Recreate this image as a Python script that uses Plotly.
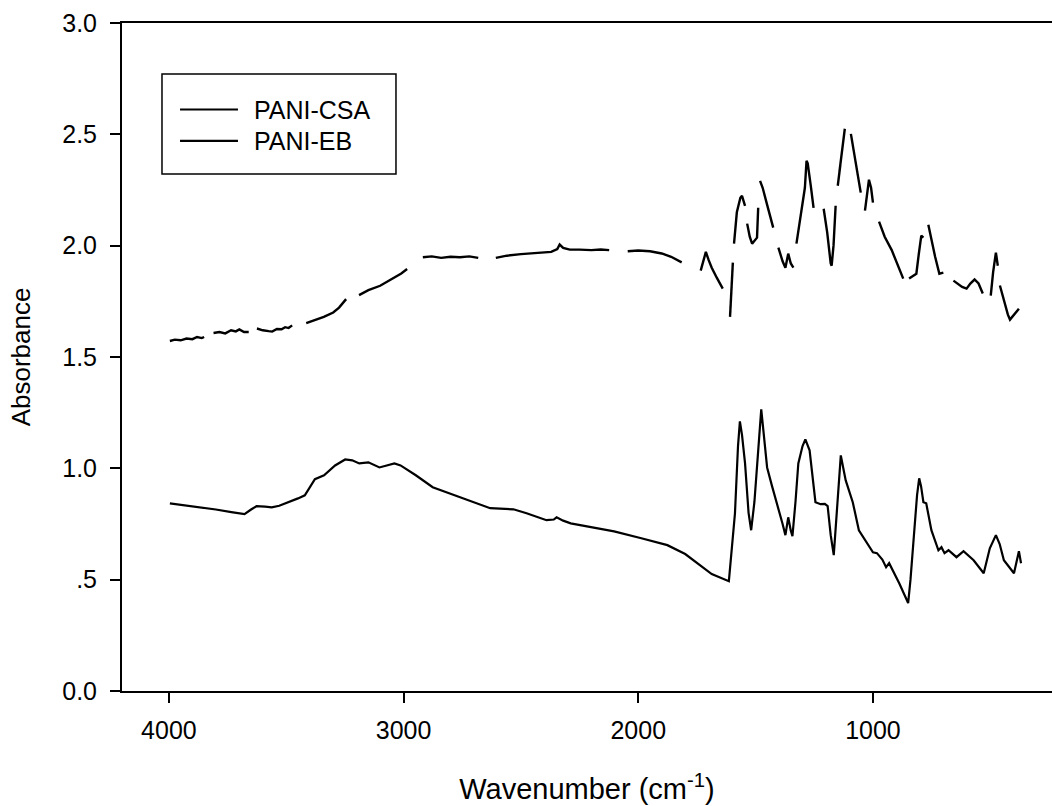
import plotly.graph_objects as go

# PANI-CSA (upper trace, drawn with breaks as in the scanned figure; None = gap)
csa_wn = [3996, 3975, 3950, 3925, 3900, 3880, 3860, 3850, None,
          3810, 3785, 3760, 3735, 3715, 3700, 3680, 3660, None,
          3625, 3600, 3575, 3560, 3540, 3520, 3505, 3490, 3475, None,
          3415, 3380, 3340, 3300, 3275, 3245, None,
          3190, 3150, 3100, 3050, 3010, 2985, None,
          2918, 2880, 2840, 2800, 2760, 2720, 2682, None,
          2607, 2560, 2500, 2450, 2400, 2371, 2345, 2335, 2320, 2292, 2250, 2200, 2160, 2124, None,
          2045, 2000, 1950, 1900, 1860, 1815, None,
          1734, 1720, 1712, 1700, 1687, 1665, 1640, None,
          1609, 1603, 1597, None,
          1592, 1580, 1565, 1558, 1545, None,
          1536, 1525, 1515, 1500, 1494, 1489, None,
          1481, 1470, 1450, 1425, None,
          1403, 1385, 1373, 1365, 1361, 1350, 1339, None,
          1326, 1305, 1290, 1283, 1278, 1265, 1253, None,
          1210, 1195, 1180, 1176, 1168, 1159, None,
          1150, 1135, 1120, None,
          1094, 1075, 1052, None,
          1034, 1025, 1017, 1008, 1000, None,
          974, 950, 920, 895, 871, None,
          846, 830, 815, 805, 794, 785, None,
          764, 750, 735, 717, 700, None,
          657, 640, 620, 601, 585, 567, 550, 532, None,
          498, 488, 476, 468, None,
          459, 440, 425, 416, 400, 378]
csa_abs = [1.572, 1.578, 1.575, 1.583, 1.580, 1.590, 1.585, 1.590, None,
           1.608, 1.612, 1.606, 1.620, 1.615, 1.624, 1.612, 1.612, None,
           1.628, 1.620, 1.616, 1.614, 1.626, 1.625, 1.634, 1.630, 1.642, None,
           1.652, 1.664, 1.680, 1.700, 1.722, 1.760, None,
           1.778, 1.800, 1.820, 1.850, 1.875, 1.895, None,
           1.948, 1.952, 1.945, 1.950, 1.948, 1.952, 1.945, None,
           1.945, 1.955, 1.962, 1.965, 1.968, 1.972, 1.985, 2.005, 1.990, 1.982, 1.982, 1.980, 1.983, 1.980, None,
           1.975, 1.978, 1.975, 1.965, 1.950, 1.925, None,
           1.888, 1.950, 1.972, 1.935, 1.901, 1.855, 1.807, None,
           1.680, 1.800, 1.924, None,
           2.009, 2.150, 2.215, 2.224, 2.179, None,
           2.099, 2.040, 2.009, 2.030, 2.036, 2.170, None,
           2.291, 2.260, 2.180, 2.081, None,
           1.991, 1.930, 1.901, 1.940, 1.964, 1.920, 1.901, None,
           2.009, 2.160, 2.260, 2.381, 2.370, 2.270, 2.170, None,
           2.166, 2.060, 1.920, 1.910, 2.000, 2.179, None,
           2.269, 2.400, 2.525, None,
           2.502, 2.390, 2.238, None,
           2.157, 2.240, 2.296, 2.260, 2.193, None,
           2.108, 2.040, 1.980, 1.915, 1.852, None,
           1.852, 1.862, 1.874, 1.960, 2.045, 2.036, None,
           2.094, 2.020, 1.950, 1.874, 1.879, None,
           1.843, 1.830, 1.815, 1.807, 1.830, 1.848, 1.830, 1.785, None,
           1.776, 1.880, 1.969, 1.910, None,
           1.821, 1.740, 1.690, 1.668, 1.690, 1.717]

# PANI-EB (lower trace)
eb_wn = [3996, 3900, 3800, 3734, 3678, 3650, 3627, 3590, 3562, 3530, 3489, 3450, 3421, 3400,
         3378, 3339, 3292, 3249, 3219, 3189, 3150, 3103, 3070, 3039, 3013, 2948, 2876, 2760,
         2631, 2532, 2476, 2391, 2360, 2348, 2320, 2288, 2200, 2103, 1987, 1876, 1800, 1747,
         1687, 1614, 1600, 1588, 1575, 1567, 1558, 1545, 1530, 1519, 1505, 1494, 1483, 1476,
         1465, 1451, 1430, 1403, 1385, 1373, 1361, 1350, 1343, 1330, 1318, 1300, 1288, 1270,
         1245, 1223, 1205, 1193, 1180, 1167, 1155, 1137, 1116, 1086, 1060, 1030, 1000, 983,
         960, 944, 931, 888, 850, 840, 824, 812, 803, 795, 785, 773, 751, 721, 708, 695, 678,
         644, 614, 571, 528, 502, 476, 460, 442, 399, 378, 369]
eb_abs = [0.843, 0.830, 0.815, 0.803, 0.794, 0.815, 0.830, 0.828, 0.825, 0.832, 0.848, 0.865, 0.879, 0.915,
          0.951, 0.969, 1.013, 1.040, 1.036, 1.022, 1.027, 1.004, 1.015, 1.022, 1.013, 0.969, 0.915, 0.870,
          0.821, 0.816, 0.798, 0.767, 0.770, 0.780, 0.765, 0.753, 0.735, 0.717, 0.686, 0.655, 0.615, 0.574,
          0.525, 0.493, 0.650, 0.798, 1.100, 1.211, 1.150, 1.022, 0.800, 0.722, 0.850, 1.022, 1.200, 1.265,
          1.150, 1.004, 0.920, 0.825, 0.750, 0.700, 0.780, 0.720, 0.695, 0.850, 1.022, 1.100, 1.130, 1.081,
          0.848, 0.839, 0.840, 0.830, 0.700, 0.610, 0.800, 1.058, 0.946, 0.848, 0.722, 0.670, 0.623, 0.619,
          0.590, 0.556, 0.574, 0.484, 0.395, 0.500, 0.735, 0.880, 0.955, 0.920, 0.848, 0.843, 0.722, 0.632, 0.646, 0.619, 0.632,
          0.601, 0.628, 0.587, 0.529, 0.641, 0.700, 0.660, 0.587, 0.529, 0.628, 0.574]

series_names = ["PANI-CSA", "PANI-EB"]

y_tickvals = [0.0, 0.5, 1.0, 1.5, 2.0, 2.5, 3.0]
y_ticktext = ["0.0", ".5", "1.0", "1.5", "2.0", "2.5", "3.0"]
x_tickvals = [4000, 3000, 2000, 1000]
x_ticktext = ["4000", "3000", "2000", "1000"]

FONT = "Liberation Sans, Arial, sans-serif"

fig = go.Figure()
fig.add_trace(go.Scatter(x=csa_wn, y=csa_abs, mode="lines", name=series_names[0],
                         line=dict(color="black", width=2.4), connectgaps=False,
                         showlegend=False))
fig.add_trace(go.Scatter(x=eb_wn, y=eb_abs, mode="lines", name=series_names[1],
                         line=dict(color="black", width=2.2), showlegend=False))

# Boxed legend (SigmaPlot style: long line samples), positioned in paper coordinates
legend_box = dict(x0=0.043, x1=0.2946, y0=0.774, y1=0.9237)
legend_rows_y = [0.8705, 0.8235]
shapes = [dict(type="rect", xref="paper", yref="paper", **legend_box,
               line=dict(color="black", width=1.5), fillcolor="white", layer="above")]
annotations = []
for name, yy in zip(series_names, legend_rows_y):
    shapes.append(dict(type="line", xref="paper", yref="paper", x0=0.0624, x1=0.1247,
                       y0=yy, y1=yy, line=dict(color="black", width=2.2), layer="above"))
    annotations.append(dict(text=name, xref="paper", yref="paper", x=0.1398, y=yy,
                            xanchor="left", yanchor="middle", showarrow=False,
                            font=dict(size=25, family=FONT, color="black")))

fig.update_layout(
    width=1052, height=806,
    margin=dict(l=122, r=0, t=23, b=115),
    paper_bgcolor="white", plot_bgcolor="white",
    font=dict(family=FONT, color="black", size=25),
    showlegend=False,
    shapes=shapes,
    annotations=annotations,
    xaxis=dict(range=[4200, 237], tickvals=x_tickvals, ticktext=x_ticktext,
               showgrid=False, zeroline=False, showline=True, linecolor="black",
               linewidth=2, mirror=True, ticks="outside", ticklen=10, tickwidth=2,
               tickcolor="black", tickfont=dict(size=25, family=FONT),
               ticklabelstandoff=6,
               title=dict(text="Wavenumber (cm<sup>-1</sup>)", font=dict(size=29, family=FONT),
                          standoff=36)),
    yaxis=dict(range=[0, 3.0], tickvals=y_tickvals, ticktext=y_ticktext,
               showgrid=False, zeroline=False, showline=True, linecolor="black",
               linewidth=2, mirror=False, ticks="outside", ticklen=10, tickwidth=2,
               tickcolor="black", tickfont=dict(size=25, family=FONT),
               ticklabelstandoff=8,
               title=dict(text="Absorbance", font=dict(size=26, family=FONT),
                          standoff=24)),
)

fig.write_html("out.html")
